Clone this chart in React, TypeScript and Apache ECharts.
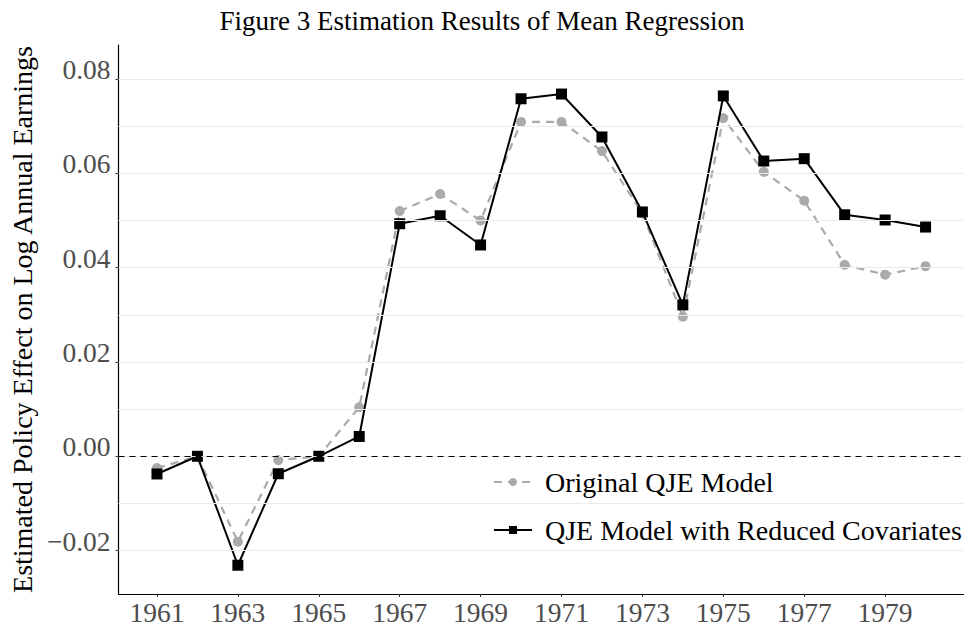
import React, { useEffect, useRef } from "react";
import * as echarts from "echarts";

const years = [1961, 1962, 1963, 1964, 1965, 1966, 1967, 1968, 1969, 1970, 1971, 1972, 1973, 1974, 1975, 1976, 1977, 1978, 1979, 1980];
const originalQJE = [-0.0025, 0.0, -0.0181, -0.0008, 0.0, 0.0104, 0.052, 0.0556, 0.05, 0.0709, 0.0709, 0.0647, 0.0515, 0.0296, 0.0717, 0.0603, 0.0542, 0.0406, 0.0385, 0.0403];
const reducedCovariates = [-0.00375, 0.0, -0.0231, -0.0037, 0.0, 0.0042, 0.0493, 0.051, 0.0448, 0.0758, 0.0768, 0.0677, 0.0518, 0.0321, 0.0764, 0.0626, 0.0631, 0.0512, 0.0501, 0.0486];
const xTickYears = [1961, 1963, 1965, 1967, 1969, 1971, 1973, 1975, 1977, 1979];
const yTickValues = [-0.02, 0, 0.02, 0.04, 0.06, 0.08];
const gridValues = [-0.02, -0.01, 0, 0.01, 0.02, 0.03, 0.04, 0.05, 0.06, 0.07, 0.08];
const seriesNames = ["Original QJE Model", "QJE Model with Reduced Covariates"];
const titleText = "Figure 3 Estimation Results of Mean Regression";
const yAxisTitle = "Estimated Policy Effect on Log Annual Earnings";

const FONT = '"Liberation Serif", "Times New Roman", serif';

export default function App() {
  const ref = useRef<HTMLDivElement | null>(null);

  useEffect(() => {
    if (!ref.current) return;
    const chart = echarts.init(ref.current, null, { renderer: "svg" });
    const fmtY = (v: number) => {
      const s = Math.abs(v).toFixed(2);
      return v < -1e-9 ? "\u2212" + s : s;
    };
    const fmtX = (v: number) => String(Math.round(v));
    const option: any = {
      animation: false,
      backgroundColor: "#ffffff",
      title: {
        text: titleText,
        left: "center",
        top: 2,
        textStyle: { fontFamily: FONT, fontSize: 27, fontWeight: "normal", color: "#000" },
      },
      grid: { left: 113, right: 0, top: 45, bottom: 37 },
      xAxis: {
        type: "value",
        min: 1960.05,
        max: 1980.95,
        splitLine: { show: false },
        axisLine: { show: true, onZero: false, lineStyle: { color: "#000", width: 1.2 } },
        axisTick: { show: true, customValues: xTickYears, length: 3, lineStyle: { color: "#333" } },
        axisLabel: {
          customValues: xTickYears,
          formatter: fmtX,
          fontFamily: FONT,
          fontSize: 27.5,
          color: "#4d4d4d",
          margin: 5,
          lineHeight: 27,
        },
      },
      yAxis: {
        type: "value",
        min: -0.0292,
        max: 0.0872,
        splitLine: { show: false },
        axisLine: { show: true, onZero: false, lineStyle: { color: "#000", width: 1.2 } },
        axisTick: { show: true, customValues: yTickValues, length: 3, lineStyle: { color: "#333" } },
        axisLabel: {
          customValues: yTickValues,
          formatter: fmtY,
          fontFamily: FONT,
          fontSize: 27.5,
          color: "#4d4d4d",
          margin: 8,
          verticalAlign: "bottom",
          lineHeight: 19,
        },
        name: yAxisTitle,
        nameLocation: "middle",
        nameGap: 74,
        nameTextStyle: { fontFamily: FONT, fontSize: 28, color: "#000" },
      },
      legend: {
        data: seriesNames,
        orient: "vertical",
        left: 488,
        top: 462,
        padding: 5,
        itemWidth: 38,
        itemHeight: 10,
        itemGap: 18,
        textStyle: { fontFamily: FONT, fontSize: 28, color: "#000", lineHeight: 30, padding: [0, 0, 0, 8] },
      },
      series: [
        {
          type: "line",
          name: "__grid",
          data: [],
          z: 1,
          silent: true,
          markLine: {
            silent: true,
            animation: false,
            symbol: ["none", "none"],
            label: { show: false },
            lineStyle: { color: "#ebebeb", width: 1.2, type: "solid" },
            data: gridValues.map((v) => ({ yAxis: v })),
          },
        },
        {
          type: "line",
          name: "__zero",
          data: [],
          z: 2,
          silent: true,
          markLine: {
            silent: true,
            animation: false,
            symbol: ["none", "none"],
            label: { show: false },
            lineStyle: { color: "#000", width: 1.2, type: [6, 5] },
            data: [{ yAxis: 0 }],
          },
        },
        {
          type: "line",
          name: seriesNames[0],
          data: years.map((y, i) => [y, originalQJE[i]]),
          z: 3,
          symbol: "circle",
          symbolSize: 10,
          itemStyle: { color: "#aaaaaa" },
          lineStyle: { color: "#aaaaaa", width: 2.2, type: [8, 6] },
        },
        {
          type: "line",
          name: seriesNames[1],
          data: years.map((y, i) => [y, reducedCovariates[i]]),
          z: 4,
          symbol: "rect",
          symbolSize: 11,
          itemStyle: { color: "#000" },
          lineStyle: { color: "#000", width: 2 },
        },
      ],
    };
    chart.setOption(option);
    return () => chart.dispose();
  }, []);

  return (
    <div
      ref={ref}
      style={{ position: "fixed", left: 0, top: 0, width: 964, height: 631, background: "#fff" }}
    />
  );
}
